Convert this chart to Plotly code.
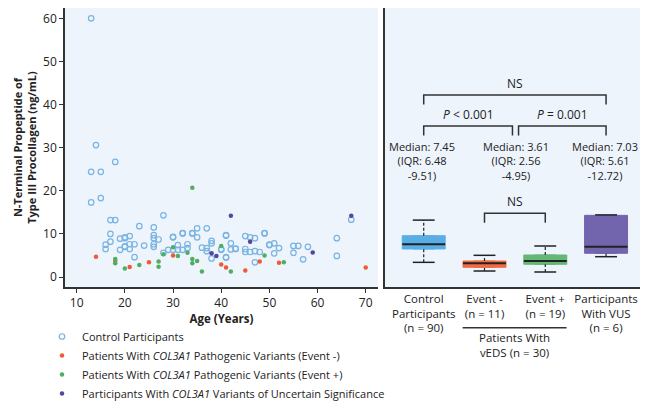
import plotly.graph_objects as go

# ---------------- data ----------------
ctrl_age = [13, 14, 13, 15, 18, 13, 15,
            17, 18, 28, 23, 26, 17, 17, 16, 16, 19, 20, 21, 20, 21, 22, 19, 21, 22,
            24, 26, 26, 26, 26, 27, 28, 29, 20, 20,
            30, 32, 34, 35, 35, 37, 30, 31, 31, 32, 33, 33, 36, 37, 37, 38, 38, 38,
            41, 41, 40, 42, 42, 43, 45, 46, 47, 49, 45, 45, 46, 47, 48, 47, 50, 51, 52,
            51, 55, 56, 55, 58, 57, 64, 64, 67,
            30, 34, 41, 49, 43, 32, 40, 41, 50]
ctrl_val = [60.0, 30.6, 24.4, 24.4, 26.7, 17.3, 18.3,
            13.2, 13.2, 14.3, 11.8, 11.5, 10.0, 8.2, 7.5, 6.5, 8.9, 9.0, 9.5, 7.0, 7.6, 7.6, 6.3, 6.5, 4.6,
            7.3, 9.7, 9.0, 7.6, 7.0, 8.7, 5.6, 6.3, 9.2, 7.1,
            9.2, 10.1, 10.1, 11.3, 9.2, 11.3, 6.3, 7.4, 6.3, 6.3, 7.6, 6.7, 6.8, 6.7, 6.0, 8.4, 7.8, 4.3,
            9.6, 4.5, 6.3, 7.8, 6.4, 6.5, 9.5, 9.2, 9.0, 10.1, 6.5, 5.8, 5.8, 6.0, 5.8, 3.4, 7.4, 7.8, 6.7,
            5.5, 7.2, 7.2, 5.6, 7.0, 4.1, 9.0, 4.9, 13.3,
            9.3, 10.2, 9.7, 10.2, 6.6, 10.2, 6.5, 4.6, 7.5]

neg_age = [14, 18, 21, 25, 30, 40, 41, 45, 48, 52, 70]
neg_val = [4.7, 3.7, 2.3, 3.4, 5.0, 2.9, 2.2, 1.5, 3.6, 3.3, 2.2]

pos_age = [18, 18, 20, 23, 27, 27, 28, 30, 31, 33, 34, 34, 34, 35, 36, 40, 42, 49, 53]
pos_val = [4.2, 3.2, 2.0, 2.8, 3.6, 2.4, 5.3, 6.9, 4.9, 5.6, 20.7, 4.2, 3.2, 3.7, 1.3, 7.2, 1.3, 5.0, 3.4]

vus_age = [38, 39, 42, 46, 59, 67]
vus_val = [5.5, 4.9, 14.2, 8.2, 5.7, 14.2]

box_labels = ["Control<br>Participants<br>(n = 90)", "Event -<br>(n = 11)",
              "Event +<br>(n = 19)", "Participants<br>With VUS<br>(n = 6)"]
box_pos = [0, 1, 2, 3]
box_lo = [3.4, 1.39, 1.16, 4.71]
box_q1 = [6.5, 2.25, 2.95, 5.5]
box_med = [7.59, 3.18, 3.71, 7.03]
box_q3 = [9.58, 3.71, 5.1, 14.3]
box_hi = [13.2, 5.03, 7.19, 14.4]

median_text = ["Median: 7.45<br>(IQR: 6.48<br>-9.51)",
               "Median: 3.61<br>(IQR: 2.56<br>-4.95)",
               "Median: 7.03<br>(IQR: 5.61<br>-12.72)"]
median_text_x = [-0.03, 1.52, 2.98]

# brackets: (x start, x end, height, label, label x)
brackets = [(0, 3, 42.2, "NS", 1.5),
            (0, 1.46, 35.0, "<i>P</i> < 0.001", 0.73),
            (1.56, 3, 35.0, "<i>P</i> = 0.001", 2.28),
            (1, 2, 14.8, "NS", 1.5)]

x_ticks = [10, 20, 30, 40, 50, 60, 70]
y_ticks = [0, 10, 20, 30, 40, 50, 60]

# ---------------- styles ----------------
FONT = "Open Sans"
TXT = "#222222"
BG = "#eef4fc"
c_ctrl, c_neg, c_pos, c_vus = "#78b4e2", "#ef5a37", "#4fae5f", "#54479a"
box_fill = ["#5aaee6", "#f26b45", "#62b874", "#7264ad"]
box_w = 0.707
cap_w = 0.18
W, H = 640, 395   # page body has an 8 px margin, so this fills the 648x403 window

fig = go.Figure()

fig.add_trace(go.Scatter(x=ctrl_age, y=ctrl_val, mode="markers", name="Control Participants",
                         marker=dict(symbol="circle-open", size=5.5, color=c_ctrl, line=dict(width=1.2))))
fig.add_trace(go.Scatter(x=neg_age, y=neg_val, mode="markers",
                         name="Patients With <i>COL3A1</i> Pathogenic Variants (Event -)",
                         marker=dict(size=4.5, color=c_neg)))
fig.add_trace(go.Scatter(x=pos_age, y=pos_val, mode="markers",
                         name="Patients With <i>COL3A1</i> Pathogenic Variants (Event +)",
                         marker=dict(size=4.5, color=c_pos)))
fig.add_trace(go.Scatter(x=vus_age, y=vus_val, mode="markers",
                         name="Participants With <i>COL3A1</i> Variants of Uncertain Significance",
                         marker=dict(size=4.5, color=c_vus)))

# boxes on right panel
for i, p in enumerate(box_pos):
    fig.add_trace(go.Box(x=[p], q1=[box_q1[i]], median=[box_med[i]], q3=[box_q3[i]],
                         lowerfence=[box_q1[i]], upperfence=[box_q3[i]],
                         width=box_w, fillcolor=box_fill[i],
                         line=dict(color=box_fill[i], width=1),
                         xaxis="x2", yaxis="y2", showlegend=False, hoverinfo="skip"))
    # dashed whiskers
    for a, b in [(box_q3[i], box_hi[i]), (box_lo[i], box_q1[i])]:
        fig.add_trace(go.Scatter(x=[p, p], y=[a, b], mode="lines", xaxis="x2", yaxis="y2",
                                 line=dict(color="#222", width=1.2, dash="3px,2px"),
                                 showlegend=False, hoverinfo="skip"))
    # caps
    for v in [box_hi[i], box_lo[i]]:
        fig.add_trace(go.Scatter(x=[p - cap_w, p + cap_w], y=[v, v], mode="lines", xaxis="x2", yaxis="y2",
                                 line=dict(color="#222", width=1.5), showlegend=False, hoverinfo="skip"))
    # median
    fig.add_trace(go.Scatter(x=[p - box_w / 2, p + box_w / 2], y=[box_med[i], box_med[i]], mode="lines",
                             xaxis="x2", yaxis="y2", line=dict(color="#222", width=2),
                             showlegend=False, hoverinfo="skip"))

# brackets
for x0, x1, h, lab, lx in brackets:
    leg = 2.2
    fig.add_trace(go.Scatter(x=[x0, x0, x1, x1], y=[h - leg, h, h, h - leg], mode="lines",
                             xaxis="x2", yaxis="y2", line=dict(color="#333", width=1.5),
                             showlegend=False, hoverinfo="skip"))
    fig.add_annotation(x=lx, y=h + 2.6, xref="x2", yref="y2", text=lab, showarrow=False,
                       font=dict(family=FONT, size=12, color=TXT))

for t, x in zip(median_text, median_text_x):
    fig.add_annotation(x=x, y=27.0, xref="x2", yref="y2", text=t, showarrow=False,
                       font=dict(family=FONT, size=11, color=TXT), align="center")

# group label under Event - / Event +
fig.add_shape(type="line", xref="x2", yref="paper", x0=0.64, x1=2.35, y0=0.1906, y1=0.1906,
              line=dict(color="#333", width=1.5))
fig.add_annotation(x=1.5, y=0.1468, xref="x2", yref="paper", text="Patients With<br>vEDS (n = 30)",
                   showarrow=False, font=dict(family=FONT, size=11.5, color=TXT), yanchor="middle")

yrange = [-2.32, 62.4]
ydom = [116 / H, 1.0]
fig.update_layout(
    width=W, height=H,
    margin=dict(l=0, r=0, t=0, b=0, autoexpand=False),
    paper_bgcolor="white",
    font=dict(family=FONT, color=TXT),
    showlegend=True,
    legend=dict(x=34 / W, y=0.205, xanchor="left", yanchor="top", bgcolor="rgba(0,0,0,0)",
                font=dict(family=FONT, size=11, color=TXT), itemwidth=30, tracegroupgap=0),
    xaxis=dict(domain=[57 / W, 370 / W], range=[7.57, 72.55], tickvals=x_ticks,
               showline=True, linecolor="#333", linewidth=1.5, ticks="outside", ticklen=4,
               tickcolor="#333", showgrid=False, zeroline=False, automargin=False,
               tickfont=dict(size=12, color=TXT),
               title=dict(text="<b>Age (Years)</b>", font=dict(size=11.5, color=TXT), standoff=4)),
    yaxis=dict(domain=ydom, range=yrange, tickvals=y_ticks,
               showline=True, linecolor="#333", linewidth=1.5, ticks="outside", ticklen=4,
               tickcolor="#333", showgrid=False, zeroline=False, automargin=False,
               tickfont=dict(size=12, color=TXT),
               title=dict(text="<b>N-Terminal Propeptide of<br>Type III Procollagen (ng/mL)</b>",
                          font=dict(size=11, color=TXT), standoff=4)),
    xaxis2=dict(domain=[377 / W, 1.0], range=[-0.637, 3.69], anchor="y2", automargin=False,
                tickvals=box_pos, ticktext=box_labels, ticks="", showgrid=False, zeroline=False,
                showline=True, linecolor="#333", linewidth=1.5,
                tickfont=dict(size=11.5, color=TXT)),
    yaxis2=dict(domain=ydom, range=yrange, anchor="x2", matches="y", automargin=False,
                showticklabels=False, ticks="", showgrid=False, zeroline=False,
                showline=True, linecolor="#333", linewidth=1.5),
    plot_bgcolor=BG,
)

fig.write_html("out.html")
